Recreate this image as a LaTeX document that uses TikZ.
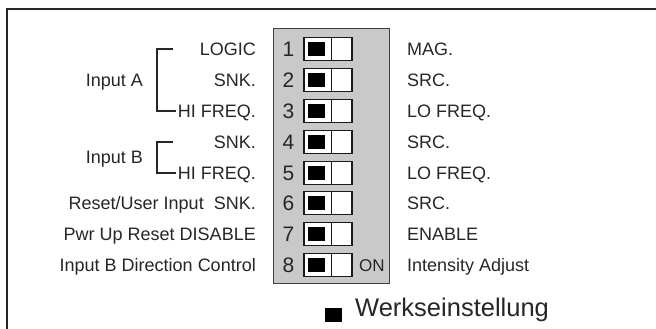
\documentclass[tikz,border=0pt]{standalone}
\usepackage{fontspec}
\setmainfont{Liberation Sans}
\definecolor{txt}{HTML}{262626}
\definecolor{boxgray}{HTML}{C9C9C9}
\begin{document}
\begin{tikzpicture}[x=1pt,y=-1pt,
  lbl/.style={font=\fontsize{18}{20}\selectfont, text=txt, inner sep=0pt},
  numlbl/.style={font=\fontsize{21}{23}\selectfont, text=txt, inner sep=0pt, anchor=base},
  switchbox/.style={draw=black!90, fill=white, line width=1.3pt, minimum width=48pt, minimum height=23pt, inner sep=0pt},
  knob/.style={fill=black, minimum width=17pt, minimum height=14pt, inner sep=0pt},
  bracket/.style={draw=black!85, line width=1.4pt}]
\useasboundingbox (0,0) rectangle (656,329);
% frame
\draw[line width=2pt, draw=black!85] (7,329) -- (7,9.5) -- (656,9.5);
% panel
\node[draw=black!75, fill=boxgray, line width=1pt, minimum width=116pt, minimum height=255pt, anchor=north west, inner sep=0pt] (panel) at (273,28) {};
% rows
\foreach \i/\y/\L/\R in {1/49/LOGIC/MAG., 2/80/SNK./SRC., 3/111/HI FREQ./LO FREQ., 4/142/SNK./SRC., 5/173/HI FREQ./LO FREQ., 6/203/Reset\slash User Input~~SNK./SRC., 7/234/Pwr Up Reset DISABLE/ENABLE, 8/265/Input B Direction Control/Intensity Adjust}{
  \node[switchbox] (sw\i) at (328,\y) {};
  \draw[line width=1.1pt, draw=black!90] ([xshift=28pt]sw\i.north west) -- ([xshift=28pt]sw\i.south west);
  \node[knob, anchor=west] (kn\i) at ([xshift=4pt]sw\i.west) {};
  \node[numlbl] (num\i) at (288.5,{\y+7.5}) {\i};
  \node[lbl, anchor=base east] (left\i) at (256,{\y+6.4}) {\L};
  \node[lbl, anchor=base west] (right\i) at (407,{\y+6.4}) {\R};
}
\node[font=\fontsize{17}{19}\selectfont, text=txt, inner sep=0pt, anchor=base west] (on) at (359,271.2) {ON};
% groups
\node[lbl, anchor=base east] (inA) at (143,86.4) {Input A};
\node[lbl, anchor=base east] (inB) at (143,163.9) {Input B};
\coordinate (a1) at (173,49);
\coordinate (a3) at (176,111);
\coordinate (b1) at (173,142);
\coordinate (b2) at (176,173);
\draw[bracket] (a1) -- (157,49) -- (157,111) -- (a3);
\draw[bracket] (b1) -- (157,142) -- (157,173) -- (b2);
% legend
\node[knob, anchor=north west] (legsq) at (325,308) {};
\node[font=\fontsize{25.5}{28}\selectfont, text=txt, inner sep=0pt, anchor=base west] (legend) at (355,316) {Werkseinstellung};
\end{tikzpicture}
\end{document}
